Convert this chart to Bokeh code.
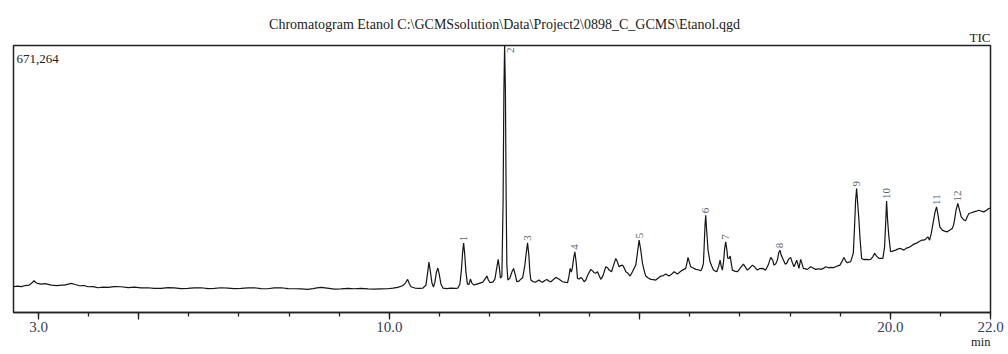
import math
from bokeh.plotting import figure
from bokeh.layouts import column
from bokeh.models import (Range1d, FixedTicker, PrintfTickFormatter, Title,
                          ColumnDataSource)
from bokeh.core.properties import value
from bokeh.embed import file_html
from bokeh.resources import INLINE

# ---------------- data ----------------
title_text = "Chromatogram Etanol C:\\GCMSsolution\\Data\\Project2\\0898_C_GCMS\\Etanol.qgd"
max_label = "671,264"
trace_label = "TIC"
x_unit = "min"

y_max_k = 671.264  # thousand counts at the top of the frame

time_min = [
    2.509, 2.575, 2.655, 2.734, 2.814, 2.864, 2.908, 2.944, 2.974, 3.054,
    3.133, 3.253, 3.373, 3.452, 3.518, 3.592, 3.652, 3.732, 3.817, 3.911,
    3.985, 4.091, 4.184, 4.290, 4.390, 4.509, 4.649, 4.789, 4.908, 5.048,
    5.182, 5.307, 5.447, 5.586, 5.706, 5.846, 5.979, 6.105, 6.245, 6.384,
    6.510, 6.643, 6.783, 6.903, 7.042, 7.182, 7.302, 7.441, 7.575, 7.700,
    7.840, 7.980, 8.099, 8.239, 8.373, 8.478, 8.558, 8.638, 8.758, 8.903,
    9.037, 9.176, 9.296, 9.436, 9.575, 9.695, 9.834, 9.968, 10.074, 10.168,
    10.267, 10.323, 10.367, 10.403, 10.433, 10.513, 10.592, 10.672, 10.732, 10.762,
    10.792, 10.822, 10.852, 10.882, 10.911, 10.941, 10.971, 11.001, 11.031, 11.071,
    11.151, 11.231, 11.310, 11.370, 11.410, 11.440, 11.464, 11.484, 11.504, 11.530,
    11.560, 11.590, 11.619, 11.649, 11.689, 11.749, 11.809, 11.869, 11.909, 11.949,
    11.978, 12.008, 12.068, 12.108, 12.138, 12.174, 12.198, 12.218, 12.248, 12.272,
    12.288, 12.302, 12.318, 12.333, 12.347, 12.367, 12.407, 12.447, 12.481, 12.517,
    12.547, 12.587, 12.627, 12.660, 12.686, 12.706, 12.736, 12.760, 12.786, 12.806,
    12.826, 12.866, 12.926, 12.986, 13.025, 13.065, 13.105, 13.145, 13.185, 13.225,
    13.265, 13.325, 13.384, 13.458, 13.504, 13.558, 13.584, 13.610, 13.634, 13.654,
    13.680, 13.704, 13.730, 13.757, 13.793, 13.823, 13.857, 13.889, 13.923, 13.963,
    14.023, 14.063, 14.089, 14.122, 14.156, 14.192, 14.222, 14.262, 14.322, 14.362,
    14.388, 14.436, 14.471, 14.521, 14.555, 14.587, 14.621, 14.655, 14.691, 14.721,
    14.761, 14.807, 14.854, 14.890, 14.920, 14.950, 14.986, 15.020, 15.054, 15.090,
    15.120, 15.169, 15.219, 15.269, 15.319, 15.369, 15.419, 15.469, 15.519, 15.584,
    15.638, 15.684, 15.752, 15.798, 15.852, 15.917, 15.941, 15.963, 15.989, 16.017,
    16.067, 16.117, 16.167, 16.217, 16.246, 16.270, 16.286, 16.302, 16.316, 16.332,
    16.362, 16.402, 16.436, 16.470, 16.506, 16.536, 16.576, 16.602, 16.625, 16.649,
    16.675, 16.695, 16.715, 16.739, 16.755, 16.781, 16.805, 16.825, 16.849, 16.895,
    16.948, 17.004, 17.068, 17.148, 17.194, 17.248, 17.294, 17.347, 17.393, 17.447,
    17.513, 17.563, 17.613, 17.653, 17.678, 17.712, 17.746, 17.772, 17.798, 17.822,
    17.866, 17.902, 17.932, 17.972, 18.011, 18.041, 18.077, 18.111, 18.131, 18.161,
    18.177, 18.211, 18.241, 18.265, 18.345, 18.410, 18.460, 18.510, 18.570, 18.610,
    18.676, 18.710, 18.769, 18.809, 18.869, 18.909, 18.969, 18.995, 19.039, 19.075,
    19.109, 19.142, 19.178, 19.208, 19.238, 19.262, 19.288, 19.308, 19.328, 19.352,
    19.374, 19.398, 19.428, 19.468, 19.507, 19.567, 19.607, 19.647, 19.687, 19.727,
    19.773, 19.826, 19.852, 19.886, 19.906, 19.926, 19.946, 19.972, 20.006, 20.046,
    20.106, 20.145, 20.205, 20.271, 20.325, 20.371, 20.425, 20.471, 20.524, 20.570,
    20.624, 20.670, 20.714, 20.750, 20.784, 20.818, 20.857, 20.893, 20.923, 20.953,
    20.989, 21.037, 21.083, 21.137, 21.183, 21.236, 21.262, 21.282, 21.312, 21.348,
    21.382, 21.416, 21.462, 21.502, 21.532, 21.568, 21.621, 21.667, 21.721, 21.767,
    21.821, 21.867, 21.921, 21.966, 22.000,
]

intensity_k = [
    65.2, 66.5, 65.2, 67.8, 69.0, 74.0, 79.8, 75.3, 73.3, 71.5,
    72.8, 69.0, 67.8, 69.0, 69.0, 71.5, 73.3, 70.3, 67.3, 67.8,
    64.7, 65.2, 62.2, 64.0, 63.2, 65.2, 64.7, 62.7, 64.0, 62.0,
    62.2, 60.7, 60.7, 62.7, 62.0, 60.2, 60.7, 62.0, 62.2, 60.2,
    60.7, 62.2, 61.5, 60.2, 60.7, 62.0, 62.2, 60.2, 59.7, 62.0,
    62.2, 60.2, 59.7, 59.5, 58.2, 60.2, 62.0, 63.2, 61.5, 59.0,
    59.5, 60.7, 59.7, 60.7, 59.5, 59.0, 59.5, 59.7, 61.5, 63.2,
    67.3, 74.0, 83.3, 71.5, 64.7, 61.5, 60.7, 61.5, 69.0, 96.6,
    126.7, 101.6, 74.0, 64.0, 76.5, 101.6, 111.7, 94.1, 71.5, 61.5,
    60.2, 61.5, 60.7, 61.5, 71.5, 106.6, 151.8, 174.4, 149.3, 101.6,
    71.5, 70.3, 84.1, 74.0, 69.0, 71.5, 74.0, 76.5, 84.1, 91.6,
    81.6, 75.3, 76.5, 84.1, 106.6, 133.5, 111.7, 86.6, 91.6, 282.3,
    558.3, 671.264, 558.3, 282.3, 119.2, 81.6, 86.6, 101.6, 110.9, 94.1,
    77.3, 79.0, 84.1, 86.6, 104.1, 119.2, 151.8, 175.2, 144.3, 101.6,
    81.6, 77.8, 76.5, 81.6, 77.8, 76.5, 80.3, 82.8, 79.0, 77.3,
    81.6, 88.3, 84.1, 77.3, 76.5, 74.8, 89.1, 110.9, 101.6, 111.7,
    136.8, 152.6, 126.7, 85.8, 84.1, 88.3, 84.1, 77.3, 81.6, 94.1,
    108.4, 104.1, 99.9, 99.1, 102.4, 91.6, 83.3, 91.6, 114.9, 111.7,
    106.6, 102.4, 116.7, 136.0, 126.7, 114.9, 117.9, 119.2, 111.7, 102.4,
    99.1, 91.6, 102.4, 111.7, 119.2, 146.8, 181.9, 156.8, 123.5, 104.1,
    91.6, 86.6, 83.3, 82.8, 81.6, 86.6, 91.6, 92.8, 96.6, 91.6,
    96.6, 102.4, 96.6, 101.6, 106.6, 110.9, 124.2, 138.5, 126.7, 114.9,
    111.7, 108.4, 107.4, 104.9, 111.7, 123.5, 169.4, 219.6, 244.7, 212.0,
    156.8, 127.5, 116.7, 106.6, 104.1, 102.4, 116.7, 131.7, 116.7, 106.6,
    131.7, 161.9, 177.7, 156.8, 136.8, 136.0, 141.8, 124.2, 106.6, 104.1,
    102.4, 111.7, 121.7, 106.6, 111.7, 119.2, 114.2, 106.6, 110.4, 110.9,
    106.6, 119.2, 138.5, 131.7, 119.2, 121.7, 131.7, 149.3, 156.8, 144.3,
    131.7, 121.7, 123.5, 134.3, 138.5, 126.7, 114.9, 124.2, 131.7, 119.2,
    110.9, 133.5, 121.7, 110.9, 108.4, 114.9, 111.7, 108.4, 109.9, 108.4,
    111.7, 114.9, 112.4, 113.4, 112.9, 114.9, 117.9, 119.2, 129.2, 138.5,
    129.2, 125.0, 126.7, 127.5, 139.3, 149.3, 219.6, 282.3, 311.7, 269.8,
    232.1, 181.9, 136.0, 133.0, 133.5, 133.0, 133.5, 139.3, 148.6, 141.8,
    136.0, 136.0, 136.0, 165.1, 219.6, 280.5, 232.1, 190.2, 152.6, 154.3,
    156.8, 159.3, 161.1, 156.8, 161.9, 163.6, 168.1, 171.9, 174.4, 177.7,
    181.9, 181.9, 185.7, 190.2, 181.9, 198.7, 227.1, 252.2, 265.5, 244.7,
    215.3, 207.0, 204.5, 202.8, 207.0, 211.3, 219.6, 232.1, 257.2, 274.0,
    257.2, 240.4, 233.4, 230.4, 239.6, 248.9, 250.9, 253.0, 254.7, 257.2,
    254.7, 253.0, 257.2, 261.5, 262.2,
]

peak_ids = ["1", "2", "3", "4", "5", "6", "7", "8", "9", "10", "11", "12"]
peak_time = [11.484, 12.302, 12.760, 13.704, 14.986, 16.316, 16.715, 17.798,
             19.328, 19.926, 20.923, 21.348]
peak_height_k = [174.4, 671.264, 175.2, 152.6, 181.9, 244.7, 177.7, 156.8,
                 311.7, 280.5, 265.5, 274.0]

x_start, x_end = 2.5, 22.0
major_ticks = [3, 5, 10, 15, 20, 22]
minor_ticks = list(range(3, 23))
blank_major = {5: "", 15: ""}

# ---------------- layout ----------------
SERIF = "Liberation Serif"
W = 1008
HEAD_H = 44
MAIN_H = 310
LEFT, RIGHT = 13, 18

xr = Range1d(x_start, x_end)

# header strip holding the title line and the trace name
head = figure(width=W, height=HEAD_H, x_range=xr, y_range=Range1d(HEAD_H, 0),
              x_axis_location=None, y_axis_location=None,
              output_backend="svg", toolbar_location=None,
              min_border_left=LEFT, min_border_right=RIGHT,
              min_border_top=0, min_border_bottom=0)
head.outline_line_color = None
head.xgrid.visible = False
head.ygrid.visible = False
head.background_fill_color = "white"
head.border_fill_color = "white"
head.text(x=[(x_start + x_end) / 2 + 0.05], y=[24], text=[title_text],
          text_align="center", text_baseline="alphabetic",
          text_font=value(SERIF), text_font_size="14px", text_color="#222222")
head.text(x=[x_end], y=[36.5], text=[trace_label],
          text_align="right", text_baseline="alphabetic",
          text_font=value(SERIF), text_font_size="13px", text_color="#222222")

# main chromatogram
p = figure(width=W, height=MAIN_H, x_range=xr, y_range=Range1d(0, y_max_k),
           y_axis_location=None, output_backend="svg", toolbar_location=None,
           min_border_left=LEFT, min_border_right=RIGHT, min_border_top=1,
           min_border_bottom=42)
p.background_fill_color = "white"
p.border_fill_color = "white"
p.xgrid.visible = False
p.ygrid.visible = False
p.outline_line_color = "#222222"
p.outline_line_width = 1.5

ax = p.xaxis[0]
ax.ticker = FixedTicker(ticks=major_ticks, minor_ticks=minor_ticks)
ax.formatter = PrintfTickFormatter(format="%.1f")
ax.major_label_overrides = blank_major
ax.axis_line_color = "#222222"
ax.axis_line_width = 1.5
ax.major_tick_line_color = "#222222"
ax.major_tick_line_width = 1.3
ax.minor_tick_line_color = "#222222"
ax.minor_tick_line_width = 1.3
ax.major_tick_in = 0
ax.major_tick_out = 7
ax.minor_tick_in = 0
ax.minor_tick_out = 4
ax.major_label_standoff = 2
ax.major_label_text_font = SERIF
ax.major_label_text_font_size = "15px"
ax.major_label_text_color = "#34405f"

src = ColumnDataSource(dict(t=time_min, h=intensity_k))
p.line("t", "h", source=src, line_color="#151515", line_width=1.2)

# peak numbers: above each apex; for an apex at the top of the frame the
# number is set just inside the frame beside the spike
above = [i for i, h in enumerate(peak_height_k) if h < 0.95 * y_max_k]
inside = [i for i, h in enumerate(peak_height_k) if h >= 0.95 * y_max_k]
psrc = ColumnDataSource(dict(t=[peak_time[i] for i in above],
                             h=[peak_height_k[i] for i in above],
                             id=[peak_ids[i] for i in above]))
p.text("t", "h", text="id", source=psrc, angle=math.pi / 2,
       text_align="left", text_baseline="middle", y_offset=-2,
       text_font=value(SERIF), text_font_size="11px", text_color="#5a5f70")
isrc = ColumnDataSource(dict(t=[peak_time[i] for i in inside],
                             h=[peak_height_k[i] for i in inside],
                             id=[peak_ids[i] for i in inside]))
p.text("t", "h", text="id", source=isrc, angle=math.pi / 2,
       text_align="right", text_baseline="middle", x_offset=6, y_offset=2,
       text_font=value(SERIF), text_font_size="11px", text_color="#5a5f70")

# maximum-intensity note inside the frame, top-left
p.text(x=[x_start], y=[y_max_k], text=[max_label], x_offset=3, y_offset=13,
       text_align="left", text_baseline="alphabetic",
       text_font=value(SERIF), text_font_size="13px", text_color="#222222")

# unit below the axis, right-aligned
p.add_layout(Title(text=x_unit, align="right", vertical_align="top",
                   standoff=0, text_font=SERIF, text_font_size="12.5px",
                   text_font_style="normal", text_color="#222222"), "below")

layout = column(head, p, spacing=0)
open("out.html", "w").write(file_html(layout, INLINE))
